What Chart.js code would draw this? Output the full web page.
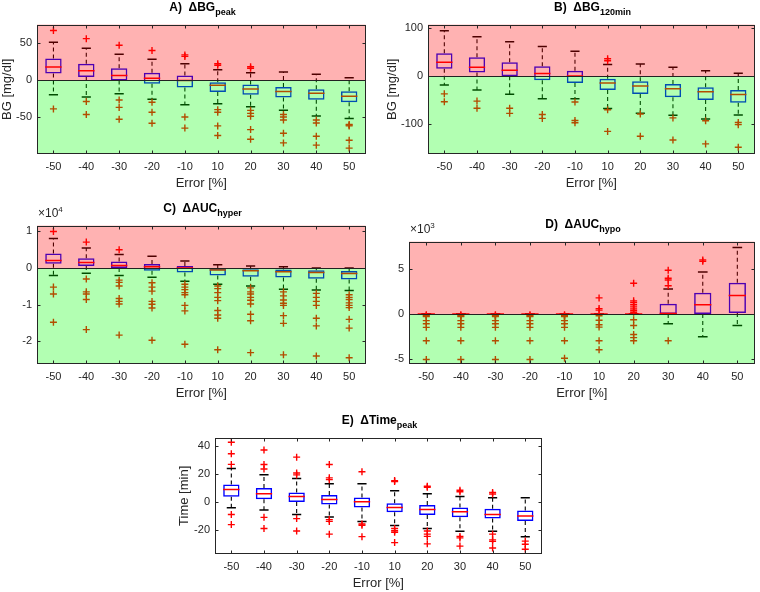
<!DOCTYPE html>
<html>
<head>
<meta charset="utf-8">
<script src="https://cdn.jsdelivr.net/npm/chart.js@4.4.0/dist/chart.umd.min.js"></script>
<style>
  body { margin: 0; width: 760px; height: 592px; background: #fff; position: relative; overflow: hidden;
         font-family: "Liberation Sans", Arial, Helvetica, sans-serif; }
  canvas { position: absolute; }
  .ttl { position: absolute; text-align: center; font-weight: bold; font-size: 12px; line-height: 14px;
         color: #000; white-space: nowrap; }
  .ttl sub { font-size: 9px; vertical-align: -4px; line-height: 0; }
  .exp { position: absolute; font-size: 12px; line-height: 12px; color: #262626; white-space: nowrap; }
  .exp sup { font-size: 8px; vertical-align: 5px; line-height: 0; }
</style>
</head>
<body>
<script>
const cats = ['-50', '-40', '-30', '-20', '-10', '10', '20', '30', '40', '50'];

// A) dBG peak [mg/dl]
const hiA  = [51, 43, 35, 28, 22, 14, 10, 11, 8, 3];
const q3A  = [29, 22, 16, 10, 6, -3, -6, -9.5, -12.5, -15];
const medA = [17.5, 12.5, 6, 2.5, -0.5, -7, -12, -15.5, -18, -22];
const q1A  = [9, 4, -0.5, -5, -10, -16, -20, -23.7, -26.7, -30];
const loA  = [-20, -23, -18.5, -26, -33.5, -32, -36, -41, -48.5, -52];
const outA = [[67, -39], [56, -29, -46.5], [47, -27, -37, -53], [40, -30, -43.5, -58.5], [34, 32, -50, -65],
              [22, 20, -40, -43.5, -62, -75], [18, 16, -41, -45, -49, -67, -80], [-46.5, -50, -54, -72, -85],
              [-54, -58, -76, -88], [-60, -61, -62, -81.5, -92]];
const ticksA = [-50, 0, 50];

// B) dBG 120min [mg/dl]
const hiB  = [94, 82, 71.5, 61.5, 51.5, 24, 25, 18.5, 11, 6];
const q3B  = [47.5, 39, 28.5, 20.5, 11, -5.5, -11, -16.5, -23, -29];
const medB = [28.5, 18.5, 12, 5.5, 0, -14.5, -20.5, -26.5, -32.5, -38.5];
const q1B  = [15, 7.5, -0.5, -8.5, -14.5, -29, -37.5, -44, -49.5, -55.5];
const loB  = [-18.5, -29, -38, -47, -47, -67.5, -77.5, -81.5, -89.5, -81];
const outB = [[-37, -53.5], [-52, -67], [-67, -77.5], [-80, -88], [-54, -92.5, -97],
              [36, 32, -70, -115], [-79, -125], [-87, -133], [-93, -141], [-96.5, -101, -148]];
const ticksB = [-100, 0, 100];

// C) dAUC hyper [x10^4]
const hiC  = [0.81, 0.55, 0.37, 0.32, 0.19, 0.09, 0.06, 0.035, 0, 0];
const q3C  = [0.40, 0.27, 0.18, 0.11, 0.06, -0.02, -0.03, -0.04, -0.06, -0.08];
const medC = [0.21, 0.15, 0.07, 0.035, 0, -0.05, -0.07, -0.1, -0.12, -0.15];
const q1C  = [0.12, 0.06, 0, -0.07, -0.12, -0.2, -0.24, -0.26, -0.29, -0.31];
const loC  = [-0.2, -0.14, -0.2, -0.25, -0.36, -0.44, -0.49, -0.58, -0.60, -0.61];
const outC = [[1.0, -0.52, -0.71, -1.48],
              [0.71, -0.30, -0.65, -0.71, -0.86, -1.68],
              [0.50, -0.33, -0.39, -0.49, -0.83, -0.91, -0.98, -1.83],
              [-0.40, -0.52, -0.63, -0.91, -0.99, -1.09, -1.97],
              [-0.44, -0.52, -0.59, -0.67, -0.73, -1.02, -1.17, -2.08],
              [-0.49, -0.56, -0.67, -0.80, -0.89, -1.16, -1.28, -1.37, -2.23],
              [-0.54, -0.65, -0.71, -0.80, -0.88, -0.98, -1.26, -1.44, -2.31],
              [-0.65, -0.76, -0.87, -0.96, -1.02, -1.30, -1.51, -2.37],
              [-0.69, -0.80, -0.91, -1.02, -1.37, -1.58, -2.40],
              [-0.73, -0.80, -0.86, -0.95, -1.02, -1.08, -1.40, -1.64, -2.45]];
const ticksC = [-2, -1, 0, 1];

// D) dAUC hypo [x10^3]
const hiD  = [0, 0, 0, 0, 0, 0, 0, 2.8, 4.7, 7.45];
const q3D  = [0, 0, 0, 0, 0, 0, 0, 1.15, 2.37, 3.5];
const medD = [0, 0, 0, 0, 0, 0, 0, 0.05, 1.04, 2.08];
const q1D  = [0, 0, 0, 0, 0, 0, 0, 0, 0, 0.1];
const loD  = [0, 0, 0, 0, 0, 0, 0, -1.1, -2.55, -1.29];
const outD = [[-0.1, -0.2, -0.3, -0.75, -1.1, -1.5, -3.0, -5.1],
              [-0.1, -0.2, -0.3, -0.75, -1.1, -1.5, -3.0, -5.1],
              [-0.1, -0.2, -0.3, -0.75, -1.1, -1.5, -3.0, -5.1],
              [-0.1, -0.2, -0.3, -0.75, -1.1, -1.5, -3.0, -5.1],
              [-0.1, -0.2, -0.3, -0.75, -1.1, -1.5, -3.0, -4.95],
              [1.8, 0.6, 0.43, -0.2, -0.7, -1.2, -1.47, -3.0, -4.0],
              [3.44, 1.47, 1.29, 1.04, 0.79, 0.57, 0.39, 0.2, -0.65, -1.29, -2.3, -2.65, -3.0],
              [4.9, 4.0, 3.8, 3.15, -3.0],
              [6.05, 5.9],
              []];
const ticksD = [-5, 0, 5];

// E) dTime peak [min]
const hiE  = [24, 19.6, 16.9, 13, 13, 8, 5.9, 3.9, 3, 3];
const q3E  = [12.5, 10, 6.8, 5, 3.2, -1.1, -2.3, -4.1, -5, -6.2];
const medE = [8.9, 5.9, 3.9, 1.6, 0, -4.1, -5.5, -7.1, -9.1, -10.3];
const q1E  = [3.6, 1.8, -0.2, -2, -4.1, -7.5, -9.4, -11.2, -12.1, -13.9];
const loE  = [-4.3, -5.9, -9.1, -11, -14.1, -17.1, -19.2, -21.2, -21.2, -25.1];
const outE = [[43, 34.7, 27, -9.1, -16.4], [37.4, 26.9, 23.7, -11.2, -19.2], [32.2, 20.8, 19.4, -12.1, -21],
              [26.9, 17.3, 16, -12.8, -14.1, -23.3], [21.7, -16, -16.9, -25.1],
              [15.3, 14.6, -19.2, -20.8, -21.9, -29.4], [11.2, 10.5, -21, -23.3, -24.9, -30.3],
              [8.4, 7.3, -24.9, -26, -31.9], [6.8, 5.7, -23.3, -27.4, -28.5, -33.3], [-28.3, -30.6, -34.2]];
const ticksE = [-20, 0, 20, 40];

const FONT = '"Liberation Sans", Arial, Helvetica, sans-serif';
const AXIS = '#262626';
const XH = 40; // height of x axis block (ticks + title)

const panelPlugin = {
  id: 'panel',
  afterDatasetsDraw(chart, args, opts) {
    if (!opts.zones) return;
    const { ctx, chartArea: a, scales: { y } } = chart;
    const y0 = Math.round(y.getPixelForValue(0));
    ctx.save();
    ctx.fillStyle = 'rgba(255,0,0,0.3)';
    ctx.fillRect(a.left, a.top, a.right - a.left, y0 - a.top);
    ctx.fillStyle = 'rgba(0,255,0,0.3)';
    ctx.fillRect(a.left, y0, a.right - a.left, a.bottom - y0);
    ctx.strokeStyle = '#222';
    ctx.lineWidth = 1.2;
    ctx.beginPath();
    ctx.moveTo(a.left, y0 + 0.5);
    ctx.lineTo(a.right, y0 + 0.5);
    ctx.stroke();
    ctx.restore();
  },
  afterDraw(chart, args, opts) {
    const { ctx, chartArea: a, scales: { x, y } } = chart;
    const L = Math.round(a.left) + 0.5, R = Math.round(a.right) - 0.5;
    const T = Math.round(a.top) + 0.5, B = Math.round(a.bottom) - 0.5;
    ctx.save();
    ctx.strokeStyle = AXIS;
    ctx.lineWidth = 1;
    ctx.strokeRect(L, T, R - L, B - T);
    ctx.beginPath();
    cats.forEach((c, i) => {
      const px = Math.round(x.getPixelForValue(i)) + 0.5;
      ctx.moveTo(px, B); ctx.lineTo(px, B - 3);
      ctx.moveTo(px, T); ctx.lineTo(px, T + 3);
    });
    opts.ticks.forEach(v => {
      const py = Math.round(y.getPixelForValue(v)) + 0.5;
      ctx.moveTo(L, py); ctx.lineTo(L + 3, py);
      ctx.moveTo(R, py); ctx.lineTo(R - 3, py);
    });
    ctx.stroke();
    ctx.restore();
  }
};

function makePanel(g, d) {
  const cv = document.createElement('canvas');
  cv.width = g.yw + g.w + 3;
  cv.height = 6 + g.h + XH;
  cv.style.left = (g.left - g.yw) + 'px';
  cv.style.top = (g.top - 6) + 'px';
  document.body.appendChild(cv);

  const t = document.createElement('div');
  t.className = 'ttl';
  t.style.left = g.left + 'px';
  t.style.width = g.w + 'px';
  t.style.top = (g.top - 19) + 'px';
  t.innerHTML = d.title;
  document.body.appendChild(t);

  if (d.exp) {
    const e = document.createElement('div');
    e.className = 'exp';
    e.style.left = (g.left + 1) + 'px';
    e.style.top = (g.top - 13) + 'px';
    e.innerHTML = d.exp;
    document.body.appendChild(e);
  }

  const catW = c => c.chart.scales.x.width / cats.length;

  const whiskers = [];
  cats.forEach((c, i) => {
    whiskers.push({ x: c, y: d.q3[i] }, { x: c, y: d.hi[i] }, { x: c, y: null });
    whiskers.push({ x: c, y: d.q1[i] }, { x: c, y: d.lo[i] }, { x: c, y: null });
  });
  const caps = cats.flatMap((c, i) => [{ x: c, y: d.hi[i] }, { x: c, y: d.lo[i] }]);
  const outliers = cats.flatMap((c, i) => d.out[i].map(v => ({ x: c, y: v })));

  new Chart(cv, {
    type: 'bar',
    data: {
      labels: cats,
      datasets: [
        {
          type: 'line', data: d.med, order: 0, showLine: false,
          pointStyle: 'line', pointRadius: c => catW(c) / 4,
          pointBorderColor: '#ff0000', pointBorderWidth: 1.5
        },
        {
          type: 'line', data: outliers, order: 1, showLine: false,
          pointStyle: 'cross', pointRadius: 3.5,
          pointBorderColor: '#ff0000', pointBorderWidth: 1.4
        },
        {
          type: 'bar', data: d.q1.map((v, i) => [v, d.q3[i]]), order: 2,
          backgroundColor: 'rgba(0,0,0,0)', borderColor: '#0000ff', borderWidth: 1.5,
          borderSkipped: false, barPercentage: 0.5, categoryPercentage: 1
        },
        {
          type: 'line', data: caps, order: 3, showLine: false,
          pointStyle: 'line', pointRadius: c => catW(c) * 0.14,
          pointBorderColor: '#000', pointBorderWidth: 1.5
        },
        {
          type: 'line', data: whiskers, order: 4, spanGaps: false, fill: false,
          borderColor: '#000', borderWidth: 1.1, borderDash: [4, 3], pointRadius: 0
        }
      ]
    },
    options: {
      responsive: false,
      animation: false,
      events: [],
      layout: { padding: { top: 6, right: 3, left: 0, bottom: 0 } },
      plugins: {
        legend: { display: false },
        tooltip: { enabled: false },
        panel: { zones: d.zones, ticks: d.ticks }
      },
      scales: {
        x: {
          type: 'category', offset: true,
          grid: { display: false, drawTicks: false }, border: { display: false },
          ticks: { color: AXIS, font: { family: FONT, size: 11 }, padding: 6, maxRotation: 0, autoSkip: false },
          title: { display: true, text: 'Error [%]', color: AXIS, font: { family: FONT, size: 13 },
                   padding: { top: 0, bottom: 3 } },
          afterFit: s => { s.height = XH; }
        },
        y: {
          type: 'linear', min: d.min, max: d.max,
          grid: { display: false, drawTicks: false }, border: { display: false },
          afterBuildTicks: s => { s.ticks = d.ticks.map(v => ({ value: v })); },
          ticks: { color: AXIS, font: { family: FONT, size: 11 }, padding: 5 },
          title: { display: !!d.ylabel, text: d.ylabel || '', color: AXIS, font: { family: FONT, size: 13 },
                   padding: { top: g.ytp || 0, bottom: 0 } },
          afterFit: s => { s.width = g.yw; }
        }
      }
    },
    plugins: [panelPlugin]
  });
}

makePanel({ left: 37, top: 19, w: 331, h: 135, yw: 37 }, {
  title: 'A)&nbsp; ΔBG<sub>peak</sub>', ylabel: 'BG [mg/dl]', zones: true,
  min: -100, max: 75, ticks: ticksA, hi: hiA, q3: q3A, med: medA, q1: q1A, lo: loA, out: outA
});
makePanel({ left: 428, top: 19, w: 329, h: 135, yw: 48, ytp: 5 }, {
  title: 'B)&nbsp; ΔBG<sub>120min</sub>', ylabel: 'BG [mg/dl]', zones: true,
  min: -162, max: 107, ticks: ticksB, hi: hiB, q3: q3B, med: medB, q1: q1B, lo: loB, out: outB
});
makePanel({ left: 37, top: 220, w: 331, h: 144, yw: 37 }, {
  title: 'C)&nbsp; ΔAUC<sub>hyper</sub>', exp: '×10<sup>4</sup>', zones: true,
  min: -2.62, max: 1.16, ticks: ticksC, hi: hiC, q3: q3C, med: medC, q1: q1C, lo: loC, out: outC
});
makePanel({ left: 409, top: 236, w: 348, h: 128, yw: 30 }, {
  title: 'D)&nbsp; ΔAUC<sub>hypo</sub>', exp: '×10<sup>3</sup>', zones: true,
  min: -5.6, max: 8.1, ticks: ticksD, hi: hiD, q3: q3D, med: medD, q1: q1D, lo: loD, out: outD
});
makePanel({ left: 215, top: 432, w: 329, h: 122, yw: 45, ytp: 7 }, {
  title: 'E)&nbsp; ΔTime<sub>peak</sub>', ylabel: 'Time [min]', zones: false,
  min: -37.6, max: 46.3, ticks: ticksE, hi: hiE, q3: q3E, med: medE, q1: q1E, lo: loE, out: outE
});
</script>
</body>
</html>
